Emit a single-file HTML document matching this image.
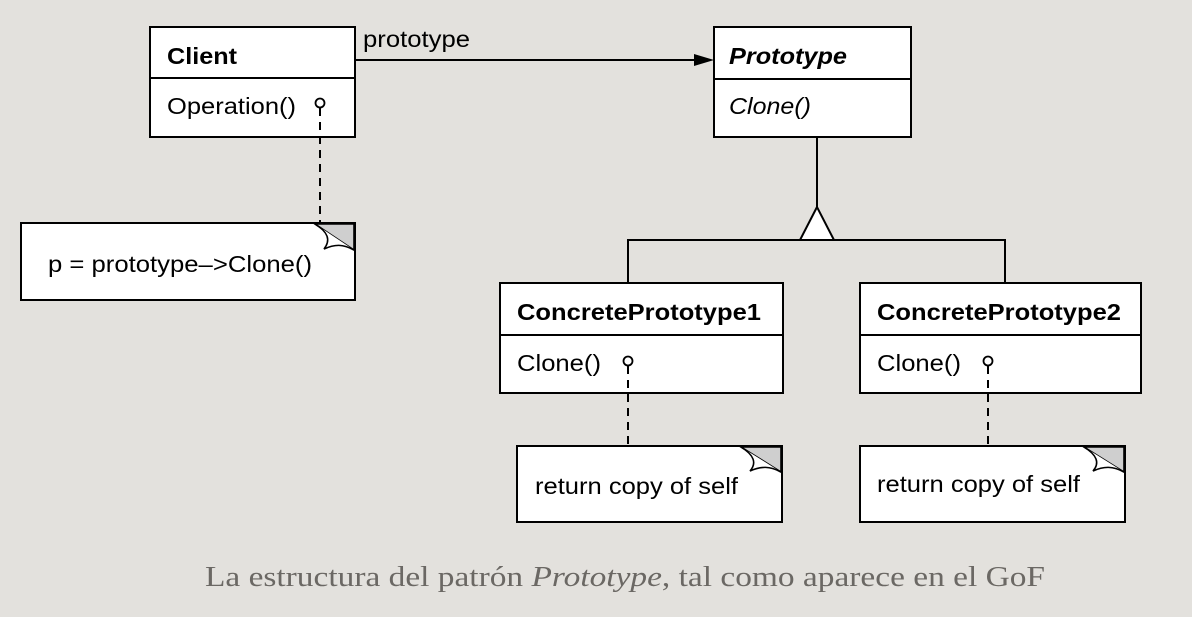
<!DOCTYPE html>
<html><head><meta charset="utf-8"><style>
html,body{margin:0;padding:0;background:#e3e1dd;}
svg{display:block}
text{font-family:"Liberation Sans",sans-serif;fill:#000}
</style></head><body>
<svg width="1192" height="617" viewBox="0 0 1192 617" xmlns="http://www.w3.org/2000/svg">
<rect width="1192" height="617" fill="#e3e1dd"/>
<g stroke="#000" stroke-width="2" fill="#fff">
<rect x="150" y="27" width="205" height="110"/>
<line x1="150" y1="78" x2="355" y2="78"/>
<rect x="714" y="27" width="197" height="110"/>
<line x1="714" y1="79" x2="911" y2="79"/>
<rect x="500" y="283" width="283" height="110"/>
<line x1="500" y1="335" x2="783" y2="335"/>
<rect x="860" y="283" width="281" height="110"/>
<line x1="860" y1="335" x2="1141" y2="335"/>
<rect x="21" y="223" width="334" height="77"/>
<rect x="517" y="446" width="265" height="76"/>
<rect x="860" y="446" width="265" height="76"/>
</g>
<g stroke="#000" stroke-width="1.6">
<path d="M315,224 L354,224 L354,250 Z" fill="#cfcfcf"/>
<path d="M315,224 C328,232 331,240 324,249 C335,244 343,244 354,250" fill="#fff"/>
<path d="M741,447 L781,447 L781,472 Z" fill="#cfcfcf"/>
<path d="M741,447 C754,455 757,463 750,471 C761,466 770,466 781,472" fill="#fff"/>
<path d="M1084,447 L1124,447 L1124,472 Z" fill="#cfcfcf"/>
<path d="M1084,447 C1097,455 1100,463 1093,471 C1104,466 1113,466 1124,472" fill="#fff"/>
</g>
<g stroke="#000" stroke-width="2" fill="none">
<line x1="355" y1="60" x2="696" y2="60"/>
<line x1="817" y1="137" x2="817" y2="207"/>
<path d="M817,207 L800,240 L834,240 Z" fill="#fff"/>
<path d="M628,283 L628,240 L1005,240 L1005,283"/>
<line x1="320" y1="108" x2="320" y2="223" stroke-dasharray="8,6"/>
<line x1="628" y1="366" x2="628" y2="446" stroke-dasharray="8,6"/>
<line x1="988" y1="366" x2="988" y2="446" stroke-dasharray="8,6"/>
</g>
<path d="M714,60 L694,54 L694,66 Z" fill="#000"/>
<g stroke="#000" stroke-width="1.8" fill="#fff">
<circle cx="320" cy="103" r="4.5"/>
<circle cx="628" cy="361" r="4.5"/>
<circle cx="988" cy="361" r="4.5"/>
</g>
<g font-size="23" lengthAdjust="spacingAndGlyphs">
<text x="363" y="47" textLength="107" lengthAdjust="spacingAndGlyphs">prototype</text>
<text x="167" y="64" font-weight="bold" textLength="70" lengthAdjust="spacingAndGlyphs">Client</text>
<text x="167" y="114" textLength="129" lengthAdjust="spacingAndGlyphs">Operation()</text>
<text x="729" y="64" font-weight="bold" font-style="italic" textLength="118" lengthAdjust="spacingAndGlyphs">Prototype</text>
<text x="729" y="114" font-style="italic" textLength="82" lengthAdjust="spacingAndGlyphs">Clone()</text>
<text x="517" y="320" font-weight="bold" textLength="244" lengthAdjust="spacingAndGlyphs">ConcretePrototype1</text>
<text x="517" y="371" textLength="84" lengthAdjust="spacingAndGlyphs">Clone()</text>
<text x="877" y="320" font-weight="bold" textLength="244" lengthAdjust="spacingAndGlyphs">ConcretePrototype2</text>
<text x="877" y="371" textLength="84" lengthAdjust="spacingAndGlyphs">Clone()</text>
<text x="48" y="272" textLength="264" lengthAdjust="spacingAndGlyphs">p = prototype–&gt;Clone()</text>
<text x="535" y="494" textLength="203" lengthAdjust="spacingAndGlyphs">return copy of self</text>
<text x="877" y="492" textLength="203" lengthAdjust="spacingAndGlyphs">return copy of self</text>
</g>
<text x="205" y="586" font-size="29" style="font-family:'Liberation Serif',serif;fill:#6b6864" textLength="840" lengthAdjust="spacingAndGlyphs">La estructura del patrón <tspan font-style="italic">Prototype</tspan>, tal como aparece en el GoF</text>
</svg>
</body></html>
